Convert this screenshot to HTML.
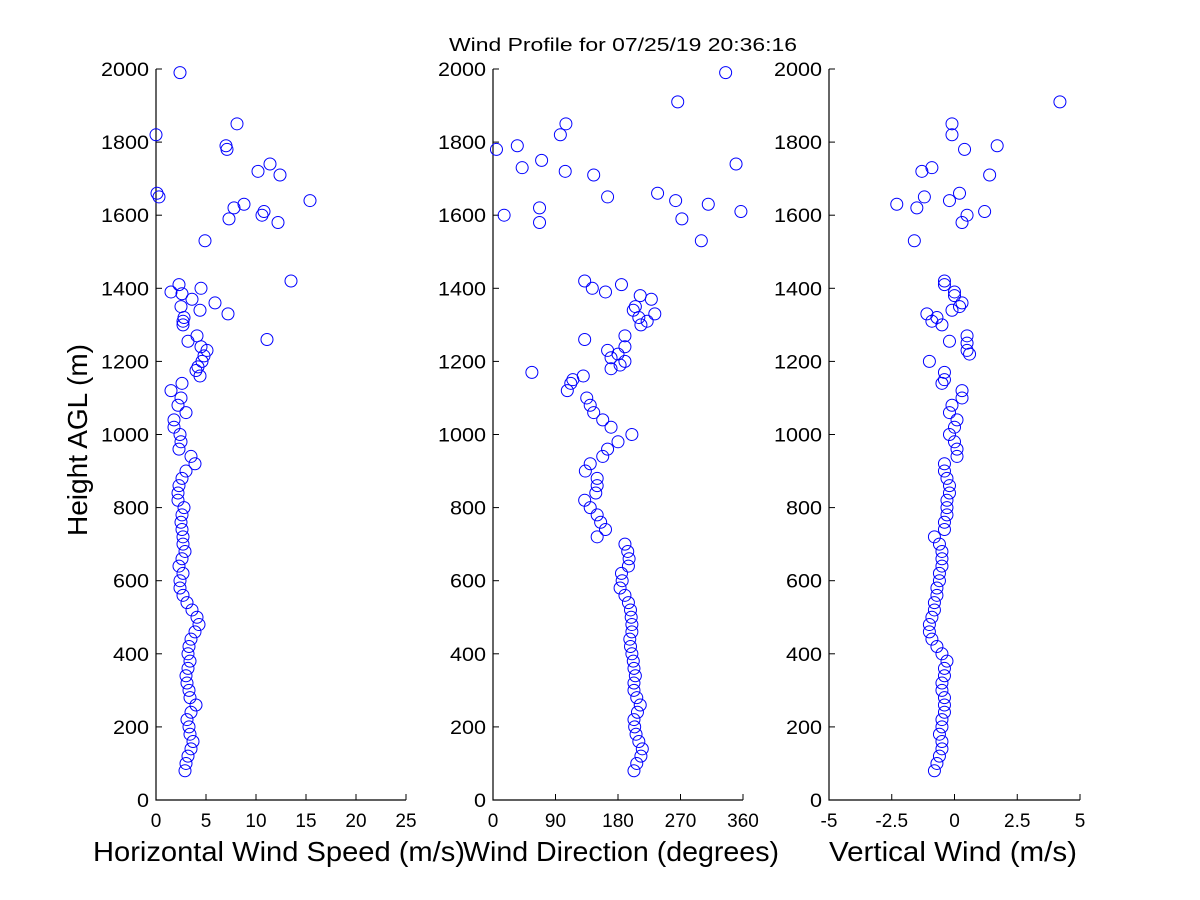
<!DOCTYPE html>
<html><head><meta charset="utf-8"><style>
body{margin:0;background:#fff;}
svg{display:block;font-family:"Liberation Sans",sans-serif;}
</style></head><body>
<svg id="c" width="1200" height="900">
<text x="623" y="51" font-size="18" text-anchor="middle" textLength="348" lengthAdjust="spacingAndGlyphs">Wind Profile for  07/25/19 20:36:16</text>
<text transform="translate(87,440) rotate(-90)" font-size="28" text-anchor="middle" textLength="192" lengthAdjust="spacingAndGlyphs">Height AGL (m)</text>
</svg>
<script>
// Horizontal wind speed (m/s) vs height (m)
const speedHeights=[80,100,120,140,160,180,200,220,240,260,280,300,320,340,360,380,400,420,440,460,480,500,520,540,560,580,600,620,640,660,680,700,720,740,760,780,800,820,840,860,880,900,920,940,960,980,1000,1020,1040,1060,1080,1100,1120,1140,1160,1175,1185,1200,1215,1230,1240,1255,1270,1300,1310,1320,1330,1340,1350,1360,1370,1385,1390,1400,1410,1420,1260,1530,1590,1600,1610,1580,1620,1630,1640,1650,1660,1710,1720,1740,1780,1790,1820,1850,1990];
const speedValues=[2.9,3.0,3.2,3.5,3.7,3.4,3.3,3.1,3.5,4.0,3.4,3.3,3.1,3.0,3.2,3.4,3.2,3.3,3.5,3.9,4.3,4.1,3.6,3.1,2.7,2.4,2.4,2.7,2.3,2.6,2.9,2.7,2.7,2.6,2.5,2.6,2.8,2.2,2.2,2.3,2.6,3.0,3.9,3.5,2.3,2.5,2.4,1.8,1.8,3.0,2.2,2.5,1.5,2.6,4.4,4.0,4.2,4.6,4.8,5.1,4.5,3.2,4.1,2.7,2.7,2.8,7.2,4.4,2.5,5.9,3.6,2.6,1.5,4.5,2.3,13.5,11.1,4.9,7.3,10.6,10.8,12.2,7.8,8.8,15.4,0.3,0.1,12.4,10.2,11.4,7.1,7.0,0.0,8.1,2.4];
// Wind direction (degrees)
const dirHeights=[80,100,120,140,160,180,200,220,240,260,280,300,320,340,360,380,400,420,440,460,480,500,520,540,560,580,600,620,640,660,680,700,720,740,760,780,800,820,840,860,880,900,920,940,960,980,1000,1020,1040,1060,1080,1100,1120,1140,1150,1160,1170,1180,1190,1200,1210,1220,1230,1240,1260,1270,1300,1310,1320,1330,1340,1350,1370,1380,1390,1400,1410,1420,1530,1580,1590,1600,1610,1620,1630,1640,1650,1660,1710,1720,1730,1740,1750,1780,1790,1820,1850,1910,1990];
const dirValues=[203,207,213,215,210,206,204,203,208,212,207,203,203,205,203,202,200,198,197,200,200,199,198,195,190,183,186,185,195,196,194,190,150,162,155,150,140,132,148,150,150,133,140,158,165,180,200,170,158,145,140,135,107,112,115,130,56,170,183,190,170,180,165,190,132,190,213,222,210,233,202,205,228,212,162,143,185,132,300,67,272,16,357,67,310,263,165,237,145,104,42,350,70,5,35,97,105,266,335];
// Vertical wind (m/s)
const vertHeights=[80,100,120,140,160,180,200,220,240,260,280,300,320,340,360,380,400,420,440,460,480,500,520,540,560,580,600,620,640,660,680,700,720,740,760,780,800,820,840,860,880,900,920,940,960,980,1000,1020,1040,1060,1080,1100,1120,1140,1150,1170,1200,1220,1230,1250,1270,1255,1300,1310,1320,1330,1340,1350,1360,1380,1390,1410,1420,1530,1580,1600,1610,1620,1630,1640,1650,1660,1710,1720,1730,1780,1790,1820,1850,1910];
const vertValues=[-0.8,-0.7,-0.6,-0.5,-0.5,-0.6,-0.5,-0.5,-0.4,-0.4,-0.4,-0.5,-0.5,-0.4,-0.4,-0.3,-0.5,-0.7,-0.9,-1.0,-1.0,-0.9,-0.8,-0.8,-0.7,-0.7,-0.6,-0.6,-0.5,-0.5,-0.5,-0.6,-0.8,-0.4,-0.4,-0.3,-0.3,-0.3,-0.2,-0.2,-0.3,-0.4,-0.4,0.1,0.1,0.0,-0.2,0.0,0.1,-0.2,-0.1,0.3,0.3,-0.5,-0.4,-0.4,-1.0,0.6,0.5,0.5,0.5,-0.2,-0.5,-0.9,-0.7,-1.1,-0.1,0.2,0.3,0.0,0.0,-0.4,-0.4,-1.6,0.3,0.5,1.2,-1.5,-2.3,-0.2,-1.2,0.2,1.4,-1.3,-0.9,0.4,1.7,-0.1,-0.1,4.2];
const yTicks=[0,200,400,600,800,1000,1200,1400,1600,1800,2000];
const speedTicks=[0,5,10,15,20,25];
const dirTicks=[0,90,180,270,360];
const vertTicks=[-5,-2.5,0,2.5,5];
const vertTickLabels=["-5","-2.5","0","2.5","5"];

const NS="http://www.w3.org/2000/svg";
const svg=document.getElementById('c');
const Y0=800,Y1=69;
function yScale(h){return Y0-(h/2000)*(Y0-Y1);}
function mk(tag,attrs,parent){const e=document.createElementNS(NS,tag);for(const k in attrs)e.setAttribute(k,attrs[k]);(parent||svg).appendChild(e);return e;}

function panel(name,x0,x1,dmin,dmax,ticks,labels,title,hs,vs,titleX,titleW){
  const g=mk('g',{});
  
  
  const xs=v=>x0+(v-dmin)/(dmax-dmin)*(x1-x0);
  const ax=mk('path',{d:`M${x0},${Y1}V${Y0}H${x1}`,stroke:'#000','stroke-width':1.2,fill:'none'},g);
  
  
  yTicks.forEach(t=>{
    const y=yScale(t);
    mk('line',{x1:x0,x2:x0+6,y1:y,y2:y,stroke:'#000'},g);
    const s=String(t);
    const tl=mk('text',{x:x0-7,y:y+7,'font-size':19,'text-anchor':'end',textLength:s.length*12,lengthAdjust:'spacingAndGlyphs'},g);
    tl.textContent=s;
    
    
  });
  ticks.forEach((t,i)=>{
    const x=xs(t);
    mk('line',{x1:x,x2:x,y1:Y0,y2:Y0-6,stroke:'#000'},g);
    const tl=mk('text',{x:x,y:Y0+27,'font-size':19,'text-anchor':'middle'},g);
    tl.textContent=labels[i];
    
    
  });
  const tt=mk('text',{x:titleX,y:861,'font-size':28,'text-anchor':'middle',textLength:titleW,lengthAdjust:'spacingAndGlyphs'},g);
  tt.textContent=title;
  
  
  hs.forEach((h,i)=>{
    const c=mk('circle',{cx:xs(vs[i]),cy:yScale(h),r:6,fill:'none',stroke:'#0000ff','stroke-width':1},g);
    
    
  });
}
panel('speed',156,406,0,25,speedTicks,speedTicks.map(String),'Horizontal Wind Speed (m/s)',speedHeights,speedValues,279,372);
panel('direction',493,743,0,360,dirTicks,dirTicks.map(String),'Wind Direction (degrees)',dirHeights,dirValues,621,316);
panel('vertical',829,1080,-5,5,vertTicks,vertTickLabels,'Vertical Wind (m/s)',vertHeights,vertValues,953,248);
</script>
</body></html>
